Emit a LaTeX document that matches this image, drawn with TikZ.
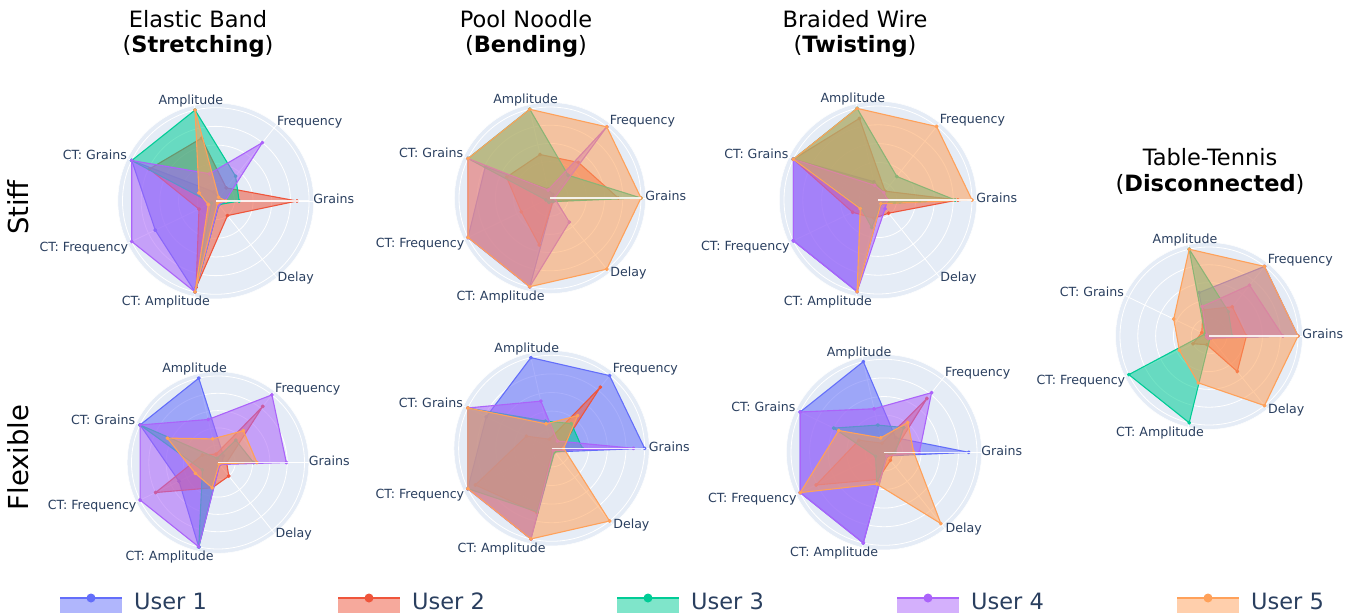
\documentclass[tikz,border=0pt]{standalone}
\usepackage{fontspec}
\setmainfont{DejaVu Sans}
\usetikzlibrary{positioning}

\definecolor{userA}{HTML}{636EFA}
\definecolor{userB}{HTML}{EF553B}
\definecolor{userC}{HTML}{00CC96}
\definecolor{userD}{HTML}{AB63FA}
\definecolor{userE}{HTML}{FFA15A}
\definecolor{polarbg}{HTML}{E5ECF6}
\definecolor{axtext}{HTML}{2A3F5F}

\tikzstyle{axlabel}=[font=\fontsize{12.6}{14}\selectfont, text=axtext, inner sep=0pt]
\tikzstyle{title}=[font=\fontsize{22.5}{26}\selectfont, anchor=base, inner sep=0pt]
\tikzstyle{rowlabel}=[font=\fontsize{27.5}{30}\selectfont, rotate=90, anchor=base, inner sep=0pt]
\tikzstyle{legtext}=[font=\fontsize{22.5}{26}\selectfont, text=axtext, anchor=base west, inner sep=0pt]
\tikzstyle{gridline}=[white, line width=0.8pt]
\tikzstyle{radialline}=[white, line width=1.2pt, opacity=0.85]

% background, grid and axis labels of one radar chart
\newcommand{\radarframe}[1]{%
  \fill[polarbg] (0,0) circle (1.05);
  \draw[white, line width=0.5pt] (0,0) circle (1.05);
  \foreach \r in {0.2,0.4,0.6,0.8,1} \draw[gridline] (0,0) circle (\r);
  \foreach \k in {0,...,6} \draw[gridline] (0,0) -- (-\k*51.4286:1.05);
  \node[axlabel] (#1-grains) at ([shift={(24.7pt,2pt)}]0:1) {Grains};
  \node[axlabel] (#1-freq) at ([shift={(35.8pt,6.1pt)}]-51.43:1) {Frequency};
  \node[axlabel] (#1-amp) at ([shift={(-4.2pt,9pt)}]-102.86:1) {Amplitude};
  \node[axlabel] (#1-ctgr) at ([shift={(-36.9pt,5.5pt)}]-154.29:1) {CT: Grains};
  \node[axlabel] (#1-ctfr) at ([shift={(-47.9pt,-6.5pt)}]-205.71:1) {CT: Frequency};
  \node[axlabel] (#1-ctam) at ([shift={(-29.2pt,-10pt)}]-257.14:1) {CT: Amplitude};
  \node[axlabel] (#1-delay) at ([shift={(21.8pt,-4.1pt)}]-308.57:1) {Delay};
}

% one user: grains, frequency, amplitude, ct grains, ct frequency, ct amplitude, delay
\newcommand{\radar}[8]{%
  \draw[#1, line width=1.1pt, fill=#1, fill opacity=0.55, line join=round]
    plot[mark=*, mark size=1.4pt, mark options={fill opacity=1}] coordinates
    {(0:#2) (-51.43:#3) (-102.86:#4) (-154.29:#5) (-205.71:#6) (-257.14:#7) (-308.57:#8)} -- cycle;
}

\begin{document}
\begin{tikzpicture}[x=1pt, y=-1pt]
  \fill[white] (0,0) rectangle (1352,615);
  \useasboundingbox (0,0) rectangle (1352,615);

  % titles
  \node[title] (esA) at (198,28) {Elastic Band};
  \node[title] (esB) at (198,53) {(\textbf{Stretching})};
  \node[title] (psA) at (526,28) {Pool Noodle};
  \node[title] (psB) at (526,53) {(\textbf{Bending})};
  \node[title] (bsA) at (855,28) {Braided Wire};
  \node[title] (bsB) at (855,53) {(\textbf{Twisting})};
  \node[title] (ttA) at (1210,165) {Table-Tennis};
  \node[title] (ttB) at (1210,191) {(\textbf{Disconnected})};

  \node[rowlabel] (stiff) at (28,207.5) {Stiff};
  \node[rowlabel] (flexible) at (28,457.5) {Flexible};

  % elastic band, stiff
  \begin{scope}[shift={(215.8,201)}, x=93.3pt, y=-93.3pt]
    \radarframe{es}
    \radar{userA}{0.05}{0.05}{0.1}{1}{0.72}{1}{0.05}
    \radar{userB}{0.87}{0.18}{0.69}{0.79}{0.2}{0.95}{0.2}
    \radar{userC}{0.25}{0.34}{1}{1}{0.05}{1}{0.05}
    \radar{userD}{0.1}{0.8}{0.3}{1}{1}{1}{0.05}
    \radar{userE}{0.11}{0.05}{1}{0.2}{0.09}{1}{0.03}
    \draw[radialline] (0,0) -- (0:1);
  \end{scope}

  % pool noodle, stiff
  \begin{scope}[shift={(550,198)}, x=91pt, y=-91pt]
    \radarframe{ps}
    \radar{userA}{0.05}{0.05}{0.1}{0.79}{1}{1}{0.05}
    \radar{userB}{0.75}{0.5}{0.49}{0.53}{0.35}{0.53}{0.05}
    \radar{userC}{1}{0.32}{1}{1}{0.05}{0.05}{0.05}
    \radar{userD}{0.05}{1}{0.09}{1}{1}{1}{0.34}
    \radar{userE}{1}{1}{1}{1}{1}{1}{1}
    \draw[radialline] (0,0) -- (0:1);
  \end{scope}

  % braided wire, stiff
  \begin{scope}[shift={(878,200)}, x=94pt, y=-94pt]
    \radarframe{bs}
    \radar{userA}{0.1}{0.1}{0.2}{1}{1}{1}{0.05}
    \radar{userB}{0.85}{0.12}{0.89}{1}{0.3}{0.2}{0.18}
    \radar{userC}{0.82}{0.32}{1}{1}{0.2}{0.3}{0.05}
    \radar{userD}{0.1}{0.1}{0.16}{1}{1}{1}{0.12}
    \radar{userE}{1}{1}{1}{1}{0.21}{1}{0.05}
    \draw[radialline] (0,0) -- (0:1);
  \end{scope}

  % table-tennis
  \begin{scope}[shift={(1209,336)}, x=89pt, y=-89pt]
    \radarframe{tt}
    \radar{userA}{1}{1}{0.5}{0.03}{0.03}{0.03}{0.03}
    \radar{userB}{0.42}{0.42}{0.3}{0.09}{0.2}{0.1}{0.51}
    \radar{userC}{0.26}{0.35}{1}{0.05}{1}{1}{0.02}
    \radar{userD}{0.83}{0.73}{0.34}{0.03}{0.03}{0.03}{0.03}
    \radar{userE}{1}{1}{1}{0.44}{0.37}{0.54}{1}
    \draw[radialline] (0,0) -- (0:1);
  \end{scope}

  % elastic band, flexible
  \begin{scope}[shift={(218,462.5)}, x=86.5pt, y=-86.5pt]
    \radarframe{ef}
    \radar{userA}{0.05}{0.1}{1}{1}{0.5}{1}{0.03}
    \radar{userB}{0.1}{0.83}{0.1}{0.2}{0.8}{0.3}{0.2}
    \radar{userC}{0.41}{0.33}{0.05}{1}{0.2}{1}{0.02}
    \radar{userD}{0.79}{1}{0.51}{1}{1}{1}{0.03}
    \radar{userE}{0.45}{0.47}{0.28}{0.65}{0.29}{0.3}{0.02}
    \draw[radialline] (0,0) -- (0:1);
  \end{scope}

  % pool noodle, flexible
  \begin{scope}[shift={(551.6,448.3)}, x=93pt, y=-93pt]
    \radarframe{pf}
    \radar{userA}{1}{1}{1}{0.78}{1}{1}{0.05}
    \radar{userB}{0.1}{0.84}{0.1}{0.3}{0.91}{0.71}{0.02}
    \radar{userC}{0.33}{0.34}{0.3}{1}{1}{0.7}{0.05}
    \radar{userD}{0.88}{0.1}{0.52}{1}{1}{1}{0.03}
    \radar{userE}{0.13}{0.45}{0.27}{1}{1}{1}{1}
    \draw[radialline] (0,0) -- (0:1);
  \end{scope}

  % braided wire, flexible
  \begin{scope}[shift={(884,452.3)}, x=93pt, y=-93pt]
    \radarframe{bf}
    \radar{userA}{0.91}{0.2}{1}{1}{1}{1}{0.05}
    \radar{userB}{0.1}{0.74}{0.1}{0.3}{0.81}{0.3}{0.11}
    \radar{userC}{0.12}{0.34}{0.3}{0.6}{0.1}{0.35}{0.05}
    \radar{userD}{0.38}{0.82}{0.48}{1}{1}{1}{0.05}
    \radar{userE}{0.32}{0.41}{0.16}{0.54}{1}{0.35}{0.98}
    \draw[radialline] (0,0) -- (0:1);
  \end{scope}

  % legend
  \foreach \lx/\lc/\ln in {60/userA/1, 338/userB/2, 617/userC/3, 897/userD/4, 1177/userE/5} {
    \fill[\lc, fill opacity=0.5] (\lx,599) rectangle ++(62,14);
    \draw[\lc, line width=2.5pt] (\lx,598) -- ++(62,0);
    \fill[\lc] (\lx+31,598) circle (4.5pt);
    \node[legtext] (leg\ln) at (\lx+74,609) {User \ln};
  }
\end{tikzpicture}
\end{document}
